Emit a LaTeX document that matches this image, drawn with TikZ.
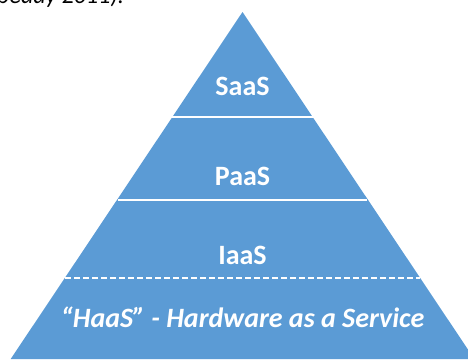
\documentclass[tikz,border=0pt]{standalone}
\usepackage{fontspec}
\setmainfont{Carlito}
\definecolor{pyr}{HTML}{5B9BD5}
\tikzset{
  layertext/.style={text=white, font=\fontsize{28}{30}\selectfont\bfseries, anchor=base, inner sep=0pt},
  haastext/.style={text=white, font=\fontsize{28}{30}\selectfont\bfseries\itshape, anchor=base, inner sep=0pt},
  sep/.style={draw=white, line width=2pt},
  dsep/.style={draw=white, line width=2pt, dash pattern=on 6pt off 3pt}
}
\begin{document}
\begin{tikzpicture}[x=1pt,y=-1pt]
\useasboundingbox (0,0) rectangle (468,359);
\begin{scope}
  \clip (0,0) rectangle (468,359);
  \node[anchor=base west, inner sep=0pt, font=\fontsize{24}{26}\selectfont\itshape] (cap) at (-3,3) {peady 2011).};
  \fill[pyr] (242.5,12) coordinate (apex) -- (10.7,359) -- (474.3,359) -- cycle;
  \path[sep] (164.3,117) -- (320.7,117);
  \path[sep] (117.9,200) -- (367.1,200);
  \path[dsep] (65,278) -- (420,278);
\end{scope}
\node[layertext] (saas) at (242.5,95) {SaaS};
\node[layertext] (paas) at (242.5,185) {PaaS};
\node[layertext] (iaas) at (242.5,264) {IaaS};
\node[haastext] (haas) at (242.5,327) {“HaaS” - Hardware as a Service};
\end{tikzpicture}
\end{document}
